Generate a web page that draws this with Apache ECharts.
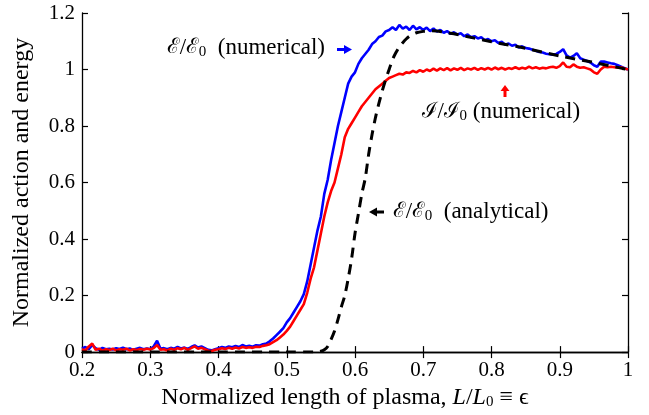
<!DOCTYPE html>
<html><head><meta charset="utf-8">
<script src="https://cdn.jsdelivr.net/npm/echarts@6/dist/echarts.min.js"></script>
<style>html,body{margin:0;padding:0;background:#fff}#c{width:649px;height:415px}</style>
</head><body><div id="c"></div>
<script>
const xNum = [
0.200,0.205,0.210,0.215,0.220,0.225,0.230,0.235,0.240,0.245,
0.250,0.255,0.260,0.265,0.270,0.275,0.280,0.285,0.290,0.295,
0.300,0.305,0.310,0.315,0.320,0.325,0.330,0.335,0.340,0.345,
0.350,0.355,0.360,0.365,0.370,0.375,0.380,0.385,0.390,0.395,
0.400,0.405,0.410,0.415,0.420,0.425,0.430,0.435,0.440,0.445,
0.450,0.455,0.460,0.465,0.470,0.475,0.480,0.485,0.490,0.495,
0.500,0.505,0.510,0.515,0.520,0.525,0.530,0.535,0.540,0.545,
0.550,0.555,0.560,0.565,0.570,0.575,0.580,0.585,0.590,0.595,
0.600,0.605,0.610,0.615,0.620,0.625,0.630,0.635,0.640,0.645,
0.650,0.655,0.660,0.665,0.670,0.675,0.680,0.685,0.690,0.695,
0.700,0.705,0.710,0.715,0.720,0.725,0.730,0.735,0.740,0.745,
0.750,0.755,0.760,0.765,0.770,0.775,0.780,0.785,0.790,0.795,
0.800,0.805,0.810,0.815,0.820,0.825,0.830,0.835,0.840,0.845,
0.850,0.855,0.860,0.865,0.870,0.875,0.880,0.885,0.890,0.895,
0.900,0.905,0.910,0.915,0.920,0.925,0.930,0.935,0.940,0.945,
0.950,0.955,0.960,0.965,0.970,0.975,0.980,0.985,0.990,0.995,
1.000];
const energyNum = [
0.012,0.018,0.010,0.025,0.014,0.008,0.015,0.010,0.012,0.009,
0.014,0.011,0.016,0.010,0.013,0.008,0.012,0.015,0.010,0.013,
0.011,0.020,0.040,0.012,0.014,0.010,0.015,0.012,0.018,0.013,
0.016,0.011,0.018,0.024,0.016,0.020,0.014,0.008,0.006,0.010,
0.014,0.018,0.015,0.020,0.017,0.022,0.018,0.025,0.020,0.022,
0.019,0.024,0.023,0.028,0.030,0.038,0.048,0.060,0.072,0.085,
0.105,0.120,0.140,0.160,0.180,0.205,0.250,0.310,0.370,0.430,
0.480,0.560,0.610,0.680,0.740,0.800,0.850,0.900,0.950,0.975,
0.990,1.020,1.040,1.055,1.070,1.090,1.100,1.115,1.120,1.135,
1.140,1.150,1.140,1.158,1.145,1.152,1.140,1.155,1.142,1.150,
1.140,1.148,1.136,1.145,1.134,1.140,1.130,1.136,1.126,1.132,
1.124,1.128,1.118,1.124,1.114,1.118,1.110,1.114,1.104,1.108,
1.100,1.104,1.094,1.098,1.088,1.092,1.084,1.088,1.078,1.082,
1.076,1.074,1.070,1.066,1.062,1.060,1.056,1.054,1.052,1.055,
1.062,1.072,1.050,1.042,1.048,1.058,1.040,1.035,1.030,1.025,
1.015,1.010,1.028,1.028,1.025,1.022,1.020,1.015,1.010,1.005,
1.000];
const actionNum = [
0.010,0.006,0.020,0.030,0.008,0.012,0.005,0.010,0.007,0.012,
0.006,0.010,0.008,0.012,0.006,0.010,0.007,0.011,0.008,0.012,
0.009,0.014,0.025,0.008,0.010,0.006,0.012,0.008,0.014,0.010,
0.015,0.008,0.014,0.020,0.012,0.015,0.010,0.005,0.004,0.008,
0.010,0.014,0.011,0.015,0.012,0.016,0.013,0.018,0.015,0.017,
0.015,0.019,0.018,0.022,0.024,0.028,0.035,0.042,0.052,0.062,
0.075,0.090,0.110,0.130,0.150,0.170,0.210,0.260,0.300,0.360,
0.420,0.480,0.530,0.570,0.600,0.650,0.700,0.760,0.790,0.810,
0.830,0.850,0.870,0.885,0.900,0.915,0.930,0.940,0.950,0.960,
0.970,0.975,0.980,0.985,0.982,0.990,0.988,0.995,0.990,0.998,
0.992,1.000,0.995,1.003,0.996,1.004,0.998,1.005,0.997,1.004,
0.999,1.006,0.998,1.004,1.000,1.006,0.999,1.005,1.000,1.006,
1.000,1.007,1.001,1.006,1.000,1.005,1.002,1.008,1.002,1.006,
1.003,1.010,1.004,1.008,1.003,1.006,1.004,1.008,1.010,1.006,
1.012,1.025,1.010,1.008,1.018,1.010,1.006,1.008,1.004,1.000,
0.990,0.985,1.000,1.010,1.008,1.010,1.008,1.006,1.008,1.004,
1.000];
const xAna = [0.20,0.30,0.40,0.50,0.54,0.55,0.555,0.56,0.565,0.57,0.575,0.58,0.585,0.59,0.595,0.60,0.605,0.61,0.615,0.62,0.625,0.63,0.635,0.64,0.645,0.65,0.655,0.66,0.665,0.67,0.675,0.68,0.69,0.70,0.71,0.72,0.73,0.75,0.80,0.85,0.90,0.95,1.00];
const energyAna = [0,0,0,0,0,0.003,0.008,0.02,0.045,0.075,0.115,0.16,0.2,0.26,0.33,0.42,0.49,0.56,0.615,0.70,0.77,0.83,0.88,0.925,0.965,1.0,1.035,1.06,1.08,1.095,1.108,1.118,1.13,1.135,1.137,1.136,1.132,1.124,1.098,1.075,1.048,1.025,1.0];
const xTicks = [0.2,0.3,0.4,0.5,0.6,0.7,0.8,0.9,1];
const yTicks = [0,0.2,0.4,0.6,0.8,1,1.2];

const pairs = (xs, ys) => xs.map((x, i) => [x, ys[i]]);
const FONT = '"Liberation Serif","DejaVu Serif",serif';
const FS = 23;
const FN = 24;
const axisCommon = {
  axisLine: {show: true, lineStyle: {color: '#000', width: 1.3}},
  axisTick: {show: true, inside: true, length: 6, lineStyle: {color: '#000', width: 1.2}},
  splitLine: {show: false}
};
const chart = echarts.init(document.getElementById('c'), null, {renderer: 'canvas'});
const mathRich = {
  s: {fontFamily: '"DejaVu Serif","Noto Sans",serif', fontSize: 21, fontStyle: 'italic', color: '#000'},
  sub: {fontFamily: FONT, fontSize: 15, color: '#000', padding: [9, 0, 0, 0]},
  t: {fontFamily: FONT, fontSize: FS, color: '#000'}
};
chart.setOption({
  animation: false,
  backgroundColor: '#fff',
  grid: {left: 82, right: 21, top: 13, bottom: 61},
  xAxis: [
    Object.assign({type: 'value', min: 0.2, max: 1, interval: 0.1, position: 'bottom',
      name: '{t|Normalized length of plasma, }{i|L}{t|/}{i|L}{sub|0}{t| ≡ ϵ}',
      nameLocation: 'middle', nameGap: 31,
      nameTextStyle: {padding: [0, 20, 0, 0], rich: {
        t: {fontFamily: FONT, fontSize: FN, color: '#000'},
        i: {fontFamily: FONT, fontSize: FN, fontStyle: 'italic', color: '#000'},
        sub: {fontFamily: FONT, fontSize: 15, color: '#000', padding: [9, 0, 0, 0]}
      }},
      axisLabel: {fontFamily: FONT, fontSize: 21, color: '#000', margin: 8,
        formatter: v => String(Math.round(v * 10) / 10)}
    }, axisCommon),
    Object.assign({type: 'value', min: 0.2, max: 1, interval: 0.1, position: 'top',
      axisLabel: {show: false}}, axisCommon)
  ],
  yAxis: [
    Object.assign({type: 'value', min: 0, max: 1.2, interval: 0.2, position: 'left',
      name: 'Normalized action and energy', nameLocation: 'middle', nameGap: 48,
      nameTextStyle: {fontFamily: FONT, fontSize: FN, color: '#000'},
      axisLabel: {fontFamily: FONT, fontSize: 21, color: '#000', margin: 7,
        formatter: v => String(Math.round(v * 10) / 10)}
    }, axisCommon),
    Object.assign({type: 'value', min: 0, max: 1.2, interval: 0.2, position: 'right',
      axisLabel: {show: false}}, axisCommon)
  ],
  series: [
    {type: 'line', name: 'energyNum', data: pairs(xNum, energyNum), showSymbol: false,
      lineStyle: {color: '#0000ff', width: 2.6}, z: 2},
    {type: 'line', name: 'actionNum', data: pairs(xNum, actionNum), showSymbol: false,
      lineStyle: {color: '#ff0000', width: 2.6}, z: 3},
    {type: 'line', name: 'energyAna', data: pairs(xAna, energyAna), showSymbol: false, smooth: 0.3,
      lineStyle: {color: '#000', width: 3, type: [10, 7]}, z: 4}
  ],
  graphic: [
    {type: 'text', x: 167, y: 48, style: {text: '{s|ℰ}{t|/}{s|ℰ}{sub|0}{t|  (numerical)}', rich: mathRich, verticalAlign: 'middle', align: 'left'}},
    {type: 'polygon', shape: {points: [[337, 48], [344, 48], [344, 45], [352, 49.5], [344, 54], [344, 51], [337, 51]]}, style: {fill: '#0000ff'}},
    {type: 'text', x: 422, y: 112, style: {text: '{s|ℐ}{t|/}{s|ℐ}{sub|0}{t| (numerical)}', rich: mathRich, verticalAlign: 'middle', align: 'left'}},
    {type: 'polygon', shape: {points: [[503.5, 97], [503.5, 91], [500.5, 91], [505, 85], [509.5, 91], [506.5, 91], [506.5, 97]]}, style: {fill: '#ff0000'}},
    {type: 'text', x: 393, y: 212, style: {text: '{s|ℰ}{t|/}{s|ℰ}{sub|0}{t|  (analytical)}', rich: mathRich, verticalAlign: 'middle', align: 'left'}},
    {type: 'polygon', shape: {points: [[384, 210.5], [377, 210.5], [377, 207.5], [369, 212], [377, 216.5], [377, 213.5], [384, 213.5]]}, style: {fill: '#000'}}
  ]
});
</script></body></html>
